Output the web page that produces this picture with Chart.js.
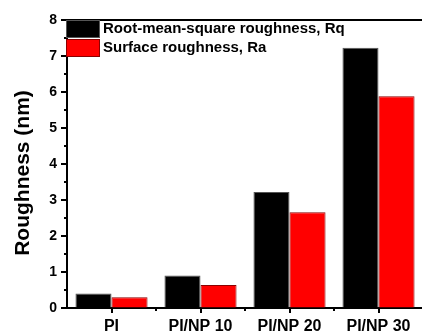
<!DOCTYPE html>
<html>
<head>
<meta charset="utf-8">
<script src="https://cdn.jsdelivr.net/npm/chart.js@4.4.0/dist/chart.umd.min.js"></script>
<style>
  html, body { margin: 0; padding: 0; background: #fff; overflow: hidden; }
  #wrap { width: 430px; height: 334px; }
</style>
</head>
<body>
<div id="wrap"><canvas id="roughChart" width="430" height="334"></canvas></div>
<script>
'use strict';

var sampleNames = ['PI', 'PI/NP 10', 'PI/NP 20', 'PI/NP 30'];
var rqValues = [0.40, 0.90, 3.22, 7.23];
var raValues = [0.30, 0.64, 2.66, 5.88];
var yTickValues = [0, 1, 2, 3, 4, 5, 6, 7, 8];
var yTitle = 'Roughness (nm)';

var FONT = "Arial, 'Liberation Sans', sans-serif";

// ticks, top frame line, y title and the in-plot legend
var framePlugin = {
  id: 'framePlugin',
  afterDraw: function (chart) {
    var ctx = chart.ctx;
    var area = chart.chartArea;
    var xs = chart.scales.x;
    var ys = chart.scales.y;
    ctx.save();
    ctx.strokeStyle = '#000';
    ctx.lineWidth = 2;

    ctx.beginPath();
    ctx.moveTo(area.left - 1, area.top);
    ctx.lineTo(area.right, area.top);
    ctx.stroke();

    for (var v = 0; v <= 8; v += 0.5) {
      var py = Math.round(ys.getPixelForValue(v));
      var len = (v % 1 === 0) ? 6 : 3;
      ctx.beginPath();
      ctx.moveTo(area.left, py);
      ctx.lineTo(area.left - len, py);
      ctx.stroke();
    }

    for (var i = 0; i < sampleNames.length; i++) {
      var cx = Math.round(xs.getPixelForValue(i));
      ctx.beginPath();
      ctx.moveTo(cx, area.bottom);
      ctx.lineTo(cx, area.bottom + 5);
      ctx.stroke();
      if (i > 0) {
        var bx = Math.round((xs.getPixelForValue(i) + xs.getPixelForValue(i - 1)) / 2);
        ctx.beginPath();
        ctx.moveTo(bx, area.bottom);
        ctx.lineTo(bx, area.bottom + 3);
        ctx.stroke();
      }
    }

    // y title, sits a bit below the middle like the original
    ctx.save();
    ctx.translate(23, 173);
    ctx.rotate(-Math.PI / 2);
    ctx.font = 'bold 21px ' + FONT;
    ctx.fillStyle = '#000';
    ctx.textAlign = 'center';
    ctx.textBaseline = 'middle';
    ctx.fillText(yTitle, 0, 0);
    ctx.restore();

    // legend
    var sets = chart.data.datasets;
    ctx.font = 'bold 15px ' + FONT;
    ctx.textBaseline = 'middle';
    ctx.textAlign = 'left';
    for (var k = 0; k < sets.length; k++) {
      var top = area.top + k * 19;
      ctx.fillStyle = sets[k].backgroundColor;
      ctx.fillRect(area.left - 1, top, 34, 18);
      ctx.lineWidth = 1;
      ctx.strokeStyle = sets[k].borderColor;
      ctx.strokeRect(area.left - 0.5, top + 0.5, 33, 17);
      ctx.fillStyle = '#000';
      ctx.fillText(sets[k].label, area.left + 36, top + 9);
    }
    ctx.restore();
  }
};

var ctx = document.getElementById('roughChart').getContext('2d');
var roughChart = new Chart(ctx, {
  type: 'bar',
  data: {
    labels: sampleNames,
    datasets: [{
      label: 'Root-mean-square roughness, Rq',
      backgroundColor: '#000000',
      borderColor: '#555555',
      borderWidth: 1,
      data: rqValues
    }, {
      label: 'Surface roughness, Ra',
      backgroundColor: '#ff0000',
      borderColor: '#8b0000',
      borderWidth: 1,
      data: raValues
    }]
  },
  options: {
    responsive: false,
    animation: false,
    devicePixelRatio: 1,
    layout: { padding: { top: 20, right: 7, left: 0, bottom: 0 } },
    categoryPercentage: 0.81,
    barPercentage: 1.0,
    plugins: {
      legend: { display: false },
      tooltip: { enabled: false }
    },
    scales: {
      x: {
        grid: { drawOnChartArea: false, tickLength: 6, tickColor: 'transparent' },
        border: { display: true, color: '#000', width: 2 },
        ticks: { color: '#000', font: { family: FONT, size: 16, weight: 'bold' }, padding: 3, maxRotation: 0 },
        afterFit: function (scale) { scale.height = 26; }
      },
      y: {
        min: 0,
        max: 8,
        afterBuildTicks: function (scale) {
          scale.ticks = yTickValues.map(function (t) { return { value: t }; });
        },
        grid: { drawOnChartArea: false, tickLength: 6, tickColor: 'transparent' },
        border: { display: true, color: '#000', width: 2 },
        ticks: { color: '#000', font: { family: FONT, size: 14, weight: 'bold' }, padding: 4 },
        title: { display: false },
        afterFit: function (scale) { scale.width = 67; }
      }
    }
  },
  plugins: [framePlugin]
});
</script>
</body>
</html>
